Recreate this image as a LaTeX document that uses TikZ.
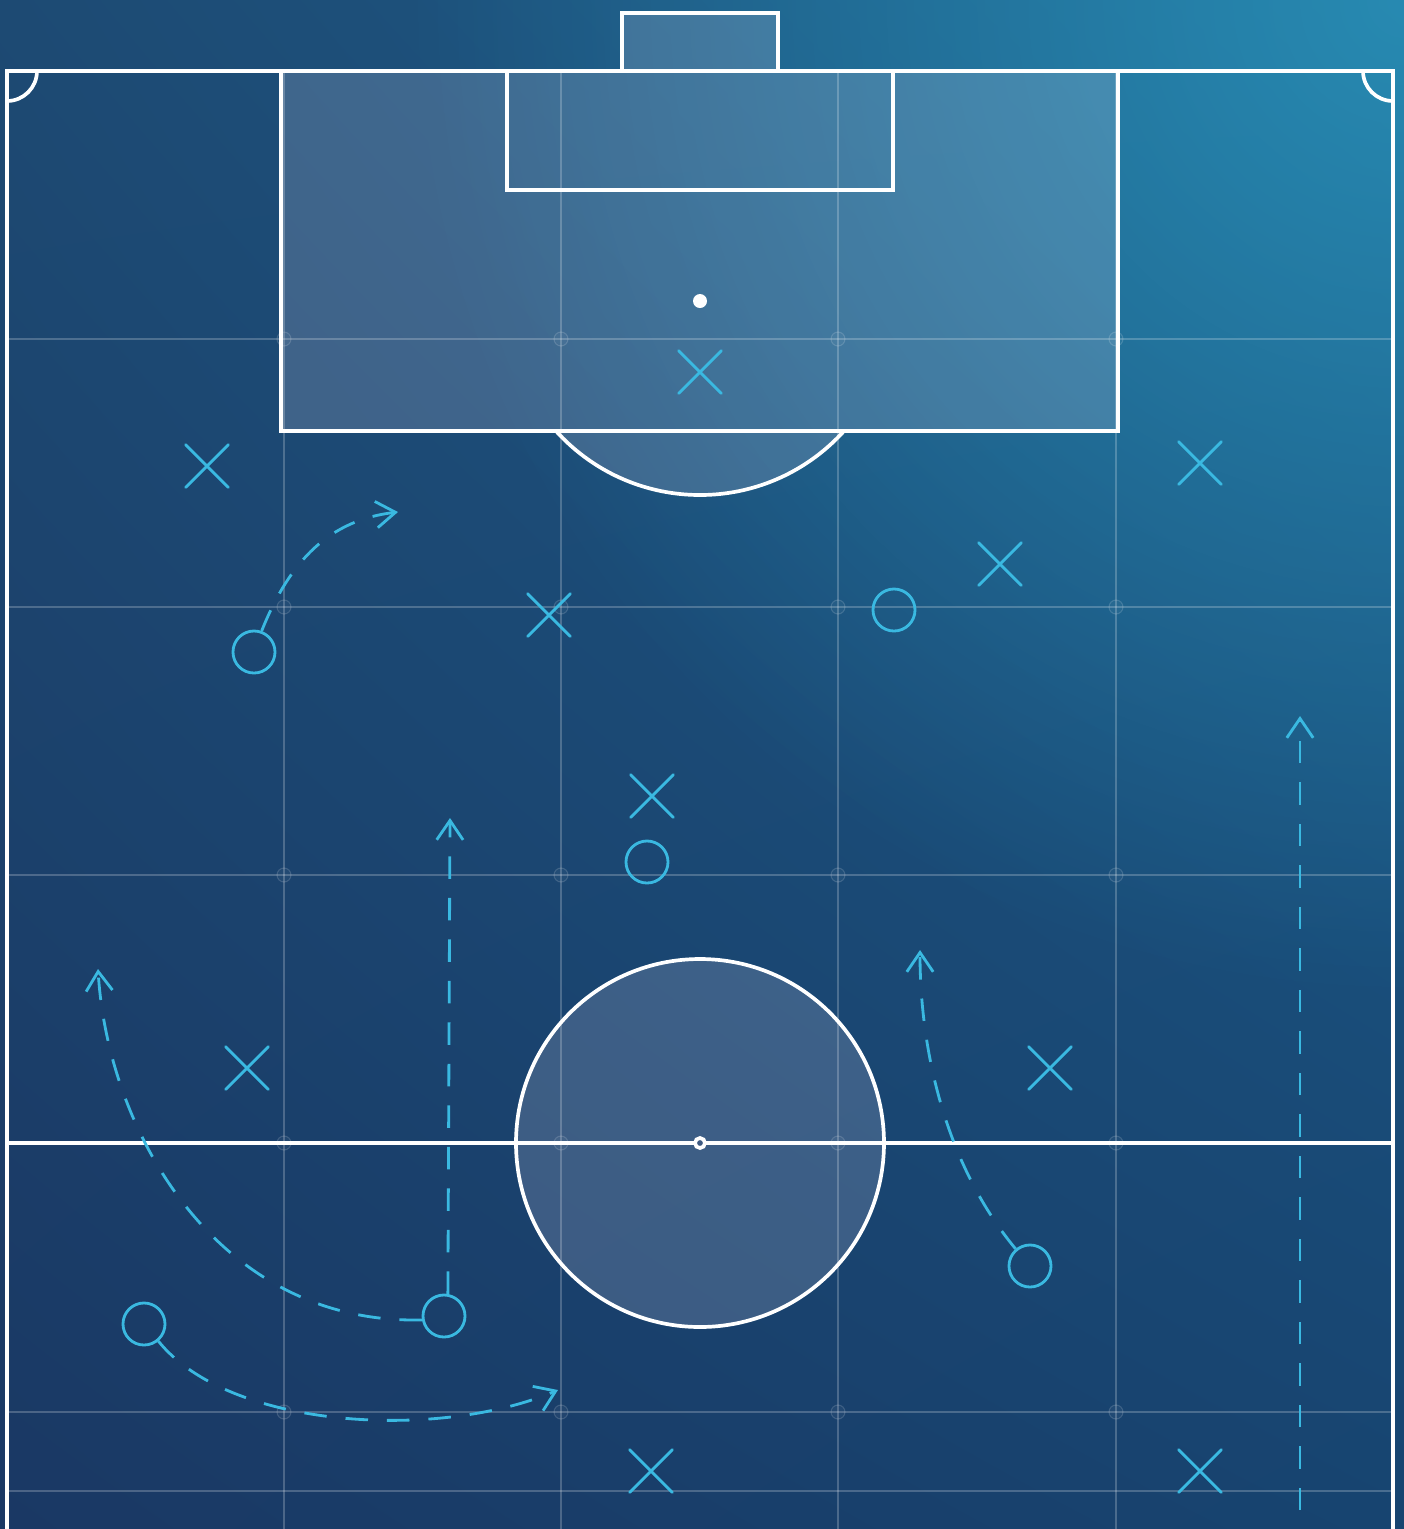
\documentclass[tikz,border=0pt]{standalone}
\usetikzlibrary{arrows.meta,shapes.misc,shadings,fadings}
\definecolor{bgUL}{HTML}{1D4A73}
\definecolor{bgUR}{HTML}{1D5F8C}
\definecolor{bgLL}{HTML}{1A3864}
\definecolor{bgLR}{HTML}{174470}
\definecolor{glow}{HTML}{2A95BB}
\definecolor{play}{HTML}{3AB9E1}
\definecolor{tint}{HTML}{ECE4F6}
\definecolor{spotin}{HTML}{3E5A82}
\tikzfading[name=glowfade, inner color=transparent!0, outer color=transparent!100]
\begin{document}
\begin{tikzpicture}[x=0.01cm,y=-0.01cm,
  pitchline/.style={draw=white,line width=1.05pt},
  areafill/.style={fill=tint,fill opacity=0.17},
  gridline/.style={draw=white,draw opacity=0.22,line width=0.35pt},
  griddot/.style={draw=white,draw opacity=0.15,fill=white,fill opacity=0.04,line width=0.3pt},
  xplayer/.style={cross out,draw=play,line width=0.8pt,minimum size=0.4cm,inner sep=0pt,line cap=round},
  oplayer/.style={circle,draw=play,line width=0.8pt,minimum size=0.42cm,inner sep=0pt},
  run/.style={draw=play,line width=0.8pt,dash pattern=on 6.4pt off 5.4pt,-{Straight Barb[length=5.5pt,width=7.5pt]}}
]
\useasboundingbox (0,0) rectangle (1404,1529);
\begin{scope}
  \clip (0,0) rectangle (1404,1529);
  \shade[upper left=bgUL,upper right=bgUR,lower left=bgLL,lower right=bgLR] (0,0) rectangle (1404,1529);
  \fill[glow,path fading=glowfade,fill opacity=0.8] (1404,0) circle (1000);
\end{scope}

% translucent areas
\fill[areafill] (622,13) rectangle (778,71);
\begin{scope}
  \clip (0,431) rectangle (1404,700);
  \fill[areafill] (700,301) circle (194);
\end{scope}
\fill[areafill] (281,71) rectangle (1118,431);
\fill[areafill] (700,1143) circle (184);

% grid
\foreach \gx in {284,561,838,1116} \draw[gridline] (\gx,71) -- (\gx,1529);
\foreach \gy in {339,607,875,1143,1412,1491} \draw[gridline] (7,\gy) -- (1393,\gy);
\foreach \gx in {284,561,838,1116}
  \foreach \gy in {339,607,875,1143,1412}
    \path[griddot] (\gx,\gy) circle (7);

% pitch markings
\draw[pitchline] (7,1529) -- (7,71) -- (1393,71) -- (1393,1529);
\draw[pitchline] (7,1143) -- (1393,1143);
\draw[pitchline] (281,71) rectangle (1118,431);
\draw[pitchline] (507,71) rectangle (893,190);
\draw[pitchline] (622,71) -- (622,13) -- (778,13) -- (778,71);
\begin{scope}
  \clip (0,431) rectangle (1404,700);
  \draw[pitchline] (700,301) circle (194);
\end{scope}
\draw[pitchline] (700,1143) circle (184);
\fill[white] (700,301) circle (7);
\draw[pitchline,fill=spotin] (700,1143) circle (5);
\begin{scope}
  \clip (7,71) rectangle (1393,200);
  \draw[pitchline] (7,71) circle (30);
  \draw[pitchline] (1393,71) circle (30);
\end{scope}

% crosses
\node[xplayer] (x1) at (207,466) {};
\node[xplayer] (x2) at (700,372) {};
\node[xplayer] (x3) at (1200,463) {};
\node[xplayer] (x4) at (1000,564) {};
\node[xplayer] (x5) at (549,615) {};
\node[xplayer] (x6) at (652,796) {};
\node[xplayer] (x7) at (247,1068) {};
\node[xplayer] (x8) at (1050,1068) {};
\node[xplayer] (x9) at (651,1471) {};
\node[xplayer] (x10) at (1200,1471) {};

% circles
\node[oplayer] (o1) at (254,652) {};
\node[oplayer] (o2) at (894,610) {};
\node[oplayer] (o3) at (647,862) {};
\node[oplayer] (o4) at (444,1316) {};
\node[oplayer] (o5) at (144,1324) {};
\node[oplayer] (o6) at (1030,1266) {};

% run end points
\coordinate (e1) at (398,512);
\coordinate (e2) at (450,818);
\coordinate (e3) at (98,969);
\coordinate (e4) at (558,1390);
\coordinate (e5) at (920,950);
\coordinate (s6) at (1300,1510);
\coordinate (e6) at (1300,716);

% runs
\draw[run] (o1.70) .. controls (290,560) and (330,520) .. (e1);
\draw[run] (o4.80) -- (e2);
\draw[run] (o4.190) .. controls (220,1325) and (108,1135) .. (e3);
\draw[run] (o5.-50) .. controls (230,1430) and (440,1440) .. (e4);
\draw[run] (o6.130) .. controls (950,1170) and (920,1060) .. (e5);
\draw[run] (s6) -- (e6);
\end{tikzpicture}
\end{document}
